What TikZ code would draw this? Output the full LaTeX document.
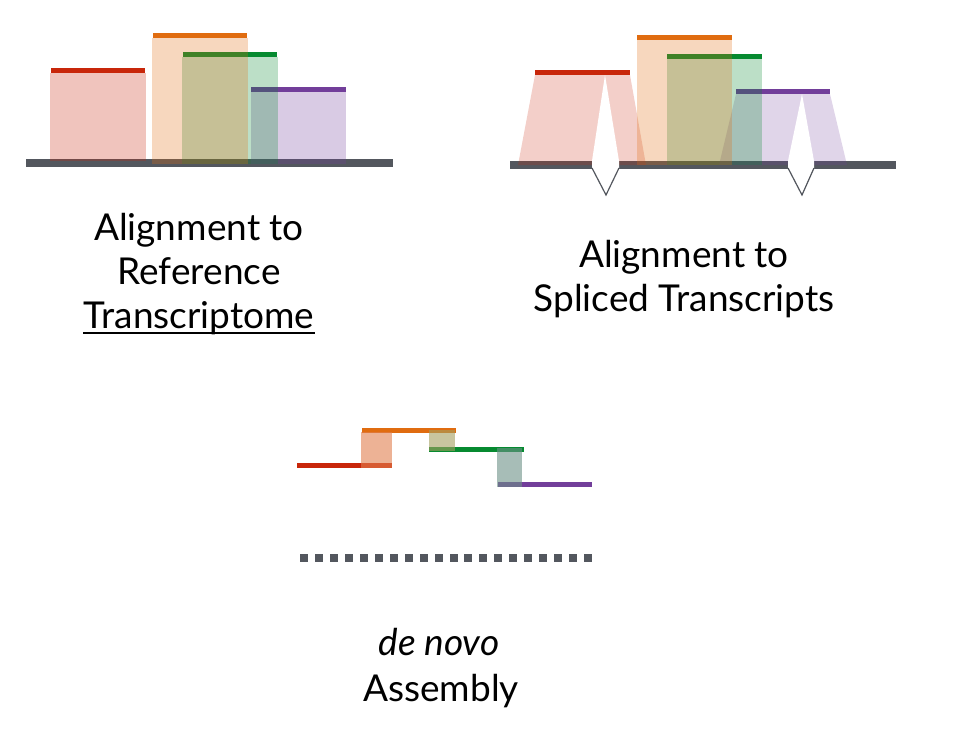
\documentclass[tikz,border=0pt]{standalone}
\usepackage{fontspec}
\setmainfont{Lato}
\definecolor{readred}{HTML}{C8260A}
\definecolor{readorange}{HTML}{E06C10}
\definecolor{readgreen}{HTML}{068A30}
\definecolor{readpurple}{HTML}{723E9A}
\definecolor{genome}{HTML}{53575E}
\definecolor{mixro}{HTML}{E17F4E}
\definecolor{mixog}{HTML}{A39E5F}
\definecolor{mixgp}{HTML}{6C9187}
\tikzset{readfill/.style={fill=#1, fill opacity=0.27},
%lighter fill for the spliced reads
splicefill/.style={fill=#1, fill opacity=0.22},
overlap/.style={fill=#1, fill opacity=0.6},
intron/.style={draw=genome, line width=1.2pt},
caption/.style={anchor=base, inner sep=0pt, font=\fontsize{37}{44}\selectfont}}

\begin{document}
\begin{tikzpicture}[x=1pt, y=-1pt]
\useasboundingbox (0,0) rectangle (959,740);

% reference transcriptome
\fill[genome] (26,159) rectangle (393,167);
\fill[readfill=readred] (50,73) rectangle (146,161);
\fill[readred] (51,68) rectangle (145,73);
\fill[readpurple] (251,87) rectangle (346,92);
\fill[readfill=readpurple] (251,92) rectangle (346,164);
\fill[readgreen] (183,52) rectangle (277,57);
\fill[readfill=readgreen] (182,57) rectangle (278,164);
\fill[readorange] (153,33) rectangle (247,38);
\fill[readfill=readorange] (152,38) rectangle (248,164);

\node[caption] (t1a) at (199,240) {Alignment to};
\node[caption] (t1b) at (199,284) {Reference};
\node[caption] (t1c) at (199,328) {Transcriptome};
\draw[line width=2pt] ([yshift=-5pt]t1c.base west) -- ([yshift=-5pt]t1c.base east);

% spliced transcripts
\coordinate (0) at (605,75);
\coordinate (1) at (802,94);
\coordinate (2) at (606,195);
\coordinate (3) at (802,195);

\fill[genome] (510,161) rectangle (896,169);
\fill[splicefill=readred] (535,75) -- (630,75) -- (646,165) -- (518,165) -- cycle;
\fill[readred] (535,70) rectangle (630,75);
\fill[readpurple] (736,89) rectangle (830,94);
\fill[splicefill=readpurple] (736,94) -- (830,94) -- (847,165) -- (719,165) -- cycle;
\fill[readgreen] (667,54) rectangle (762,59);
\fill[readfill=readgreen] (667,59) rectangle (762,165);
\fill[readorange] (637,35) rectangle (732,40);
\fill[readfill=readorange] (637,40) rectangle (732,165);

% introns cut out of the reads
\fill[white] (0) -- (592,161) -- (592,169) -- (2) -- (619,169) -- (619,161) -- cycle;
\fill[white] (1) -- (788,161) -- (788,169) -- (3) -- (814,169) -- (814,161) -- cycle;
\draw[intron] (592,168) -- (2) -- (619,168);
\draw[intron] (788,168) -- (3) -- (814,168);

\node[caption] (t2a) at (684,267) {Alignment to};
\node[caption] (t2b) at (684,311) {Spliced Transcripts};

% de novo assembly
\fill[readred] (297,463) rectangle (392,468);
\fill[readorange] (362,428) rectangle (456,433);
\fill[readgreen] (429,447) rectangle (524,452);
\fill[readpurple] (498,482) rectangle (592,487);
\fill[overlap=mixro] (361,432) rectangle (392,468);
\fill[overlap=mixog] (429,430) rectangle (455,451);
\fill[overlap=mixgp] (497,448) rectangle (522,487);

\foreach \i in {0,...,19}
    \fill[genome] (300+14.95*\i,554) rectangle +(8,8);

\node[caption] (t3a) at (439,655) {\itshape de novo};
\node[caption] (t3b) at (441,701) {Assembly};

\end{tikzpicture}
\end{document}
